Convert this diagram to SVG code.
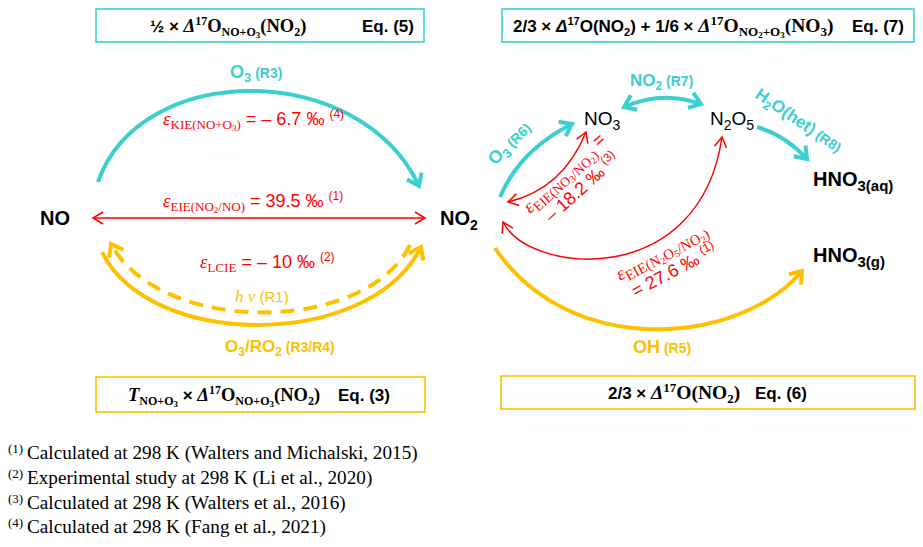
<svg xmlns="http://www.w3.org/2000/svg" width="923" height="547" viewBox="0 0 923 547">
<style>
.sans{font-family:"Liberation Sans",Arial,sans-serif}
.serif{font-family:"Liberation Serif","Times New Roman",serif}
.b{font-weight:bold}
.i{font-style:italic}
.cy{fill:#3CCFCF}
.or{fill:#FFC000}
.rd{fill:#FF0000}
.bk{fill:#000}
.boxc{fill:#fff;stroke:#3CCFCF;stroke-width:1.6}
.boxo{fill:#fff;stroke:#FFC000;stroke-width:1.6}
.lc{fill:none;stroke:#3CCFCF;stroke-width:4}
.lo{fill:none;stroke:#FFC000;stroke-width:4}
.lr{fill:none;stroke:#FF0000;stroke-width:1.5}
.dash{stroke-dasharray:14 9}
</style>
<defs>
<marker id="mc" markerUnits="userSpaceOnUse" viewBox="-16 -12 20 24" markerWidth="20" markerHeight="24" refX="0" refY="0" orient="auto-start-reverse" overflow="visible">
<path d="M-11,-8 L0,0 L-11,8" fill="none" stroke="#3CCFCF" stroke-width="4"/>
</marker>
<marker id="mo" markerUnits="userSpaceOnUse" viewBox="-16 -12 20 24" markerWidth="20" markerHeight="24" refX="0" refY="0" orient="auto-start-reverse" overflow="visible">
<path d="M-11,-8 L0,0 L-11,8" fill="none" stroke="#FFC000" stroke-width="4"/>
</marker>
<marker id="mr" markerUnits="userSpaceOnUse" viewBox="-12 -8 14 16" markerWidth="14" markerHeight="16" refX="0" refY="0" orient="auto-start-reverse" overflow="visible">
<path d="M-10,-6 L0,0 L-10,6" fill="none" stroke="#FF0000" stroke-width="1.5"/>
</marker>
</defs>
<rect width="923" height="547" fill="#fff"/>

<!-- equation boxes -->
<g id="eq5">
<rect class="boxc" x="96" y="9" width="328" height="33"/>
<text class="serif b" x="150" y="32" font-size="18.5"><tspan class="sans" font-size="17">½ × </tspan><tspan class="i">Δ</tspan><tspan font-size="12" dy="-7">17</tspan><tspan dy="7">O</tspan><tspan font-size="12" dy="4">NO+O</tspan><tspan font-size="9" dy="2">3</tspan><tspan dy="-6">(NO</tspan><tspan font-size="12" dy="4">2</tspan><tspan dy="-4">)</tspan></text>
<text class="sans b" x="362" y="32" font-size="17">Eq. (5)</text>
</g>
<g id="eq7">
<rect class="boxc" x="502" y="9" width="412" height="33"/>
<text class="sans b" x="513" y="32" font-size="17">2/3 × <tspan class="i">Δ</tspan><tspan font-size="11" dy="-7">17</tspan><tspan dy="7">O(NO</tspan><tspan font-size="11" dy="4">2</tspan><tspan dy="-4">) + 1/6 × </tspan><tspan class="serif i" font-size="19.5">Δ</tspan><tspan class="serif" font-size="13" dy="-7">17</tspan><tspan class="serif" font-size="19.5" dy="7">O</tspan><tspan class="serif" font-size="13" dy="4">NO</tspan><tspan class="serif" font-size="9" dy="2">2</tspan><tspan class="serif" font-size="13" dy="-2">+O</tspan><tspan class="serif" font-size="9" dy="2">3</tspan><tspan class="serif" font-size="19.5" dy="-6">(NO</tspan><tspan class="serif" font-size="13" dy="4">3</tspan><tspan class="serif" font-size="19.5" dy="-4">)</tspan></text>
<text class="sans b" x="852" y="32" font-size="17">Eq. (7)</text>
</g>
<g id="eq3">
<rect class="boxo" x="96" y="377" width="329" height="35"/>
<text class="serif b" x="128" y="401" font-size="18.5"><tspan class="i">T</tspan><tspan font-size="12" dy="4">NO+O</tspan><tspan font-size="9" dy="2">3</tspan><tspan class="sans" font-size="17" dy="-6"> × </tspan><tspan class="i">Δ</tspan><tspan font-size="12" dy="-7">17</tspan><tspan dy="7">O</tspan><tspan font-size="12" dy="4">NO+O</tspan><tspan font-size="9" dy="2">3</tspan><tspan dy="-6">(NO</tspan><tspan font-size="12" dy="4">2</tspan><tspan dy="-4">)</tspan></text>
<text class="sans b" x="338" y="401" font-size="17">Eq. (3)</text>
</g>
<g id="eq6">
<rect class="boxo" x="501" y="376" width="414" height="33"/>
<text class="serif b" x="608" y="399" font-size="19.5"><tspan class="sans" font-size="17">2/3 × </tspan><tspan class="i">Δ</tspan><tspan font-size="13" dy="-7">17</tspan><tspan dy="7">O(NO</tspan><tspan font-size="13" dy="4">2</tspan><tspan dy="-4">)</tspan></text>
<text class="sans b" x="755" y="399" font-size="17">Eq. (6)</text>
</g>

<!-- species nodes -->
<g id="NO"><text class="sans b bk" x="40" y="225" font-size="20">NO</text></g>
<g id="NO2"><text class="sans b bk" x="440" y="225" font-size="20">NO<tspan font-size="14" dy="5">2</tspan></text></g>
<g id="NO3"><text class="sans bk" x="584" y="125" font-size="19">NO<tspan font-size="14" dy="5">3</tspan></text></g>
<g id="N2O5"><text class="sans bk" x="710" y="125" font-size="19">N<tspan font-size="14" dy="5">2</tspan><tspan dy="-5">O</tspan><tspan font-size="14" dy="5">5</tspan></text></g>
<g id="HNO3aq"><text class="sans b bk" x="813" y="186" font-size="20">HNO<tspan font-size="15" dy="5">3(aq)</tspan></text></g>
<g id="HNO3g"><text class="sans b bk" x="813" y="262" font-size="20">HNO<tspan font-size="15" dy="5">3(g)</tspan></text></g>

<!-- connectors -->
<g id="connectors">
<path class="lc" d="M98,182 C140,60 360,60 419,186" marker-end="url(#mc)"/>
<path class="lr" d="M93,218 L425,218" marker-start="url(#mr)" marker-end="url(#mr)"/>
<path class="lo" d="M102,252 C150,350 370,350 421,247" marker-end="url(#mo)"/>
<path class="lo dash" d="M410,245 C365,335 160,335 111,244" marker-end="url(#mo)"/>
<path class="lc" d="M500,197 Q520,150 572,124" marker-end="url(#mc)"/>
<path class="lr" d="M508,202 Q563,189 586,132" marker-start="url(#mr)" marker-end="url(#mr)"/>
<path class="lr" d="M503,222 C530,275 700,290 722,137" marker-start="url(#mr)" marker-end="url(#mr)"/>
<path class="lc" d="M624,107 Q662,90 701,104" marker-start="url(#mc)" marker-end="url(#mc)"/>
<path class="lc" d="M757,127 Q785,135 807,159" marker-end="url(#mc)"/>
<path class="lo" d="M495,248 C570,360 740,345 802,271" marker-end="url(#mo)"/>
</g>

<!-- connector labels -->
<g id="labels">
<text class="sans b cy" x="230" y="78" font-size="18">O<tspan font-size="13" dy="4">3</tspan><tspan font-size="14" dy="-4"> (R3)</tspan></text>
<text class="rd" x="163" y="125"><tspan class="serif i" font-size="19">ε</tspan><tspan class="serif" font-size="13" dy="4">KIE(NO+O</tspan><tspan class="serif" font-size="9" dy="2">3</tspan><tspan class="serif" font-size="13" dy="-2">)</tspan><tspan class="sans" font-size="18" dy="-4"> = – 6.7 ‰ </tspan><tspan class="sans" font-size="12" dy="-7">(4)</tspan></text>
<text class="rd" x="163" y="207"><tspan class="serif i" font-size="19">ε</tspan><tspan class="serif" font-size="13" dy="4">EIE(NO</tspan><tspan class="serif" font-size="9" dy="2">2</tspan><tspan class="serif" font-size="13" dy="-2">/NO)</tspan><tspan class="sans" font-size="18" dy="-4"> = 39.5 ‰ </tspan><tspan class="sans" font-size="12" dy="-7">(1)</tspan></text>
<text class="rd" x="200" y="268"><tspan class="serif i" font-size="19">ε</tspan><tspan class="serif" font-size="13" dy="4">LCIE</tspan><tspan class="sans" font-size="18" dy="-4"> = – 10 ‰ </tspan><tspan class="sans" font-size="12" dy="-7">(2)</tspan></text>
<text class="or" x="235" y="302"><tspan class="serif i" font-size="17">h ν</tspan><tspan class="sans" font-size="15">  (R1)</tspan></text>
<text class="sans b or" x="225" y="352" font-size="17">O<tspan font-size="12" dy="4">3</tspan><tspan dy="-4">/RO</tspan><tspan font-size="12" dy="4">2</tspan><tspan font-size="14" dy="-4"> (R3/R4)</tspan></text>
<text class="sans b cy" x="630" y="86" font-size="17">NO<tspan font-size="12" dy="4">2</tspan><tspan font-size="14" dy="-4"> (R7)</tspan></text>
<text class="sans b cy" transform="translate(495,166) rotate(-45)" font-size="18">O<tspan font-size="13" dy="4">3</tspan><tspan font-size="14" dy="-4"> (R6)</tspan></text>
<text class="sans b cy" transform="translate(754,97) rotate(34)" font-size="17">H<tspan font-size="12" dy="4">2</tspan><tspan dy="-4">O(het)</tspan><tspan font-size="14"> (R8)</tspan></text>
<g transform="translate(530,214) rotate(-42)">
<text class="rd" x="0" y="0"><tspan class="serif i" font-size="19">ε</tspan><tspan class="serif" font-size="13.5" dy="4">EIE(NO</tspan><tspan class="serif" font-size="10" dy="2">3</tspan><tspan class="serif" font-size="13.5" dy="-2">/NO</tspan><tspan class="serif" font-size="10" dy="2">2</tspan><tspan class="serif" font-size="13.5" dy="-2">)</tspan><tspan class="sans" font-size="18" dy="-7"> =</tspan></text>
<text class="rd sans" x="10" y="21" font-size="18">– 18.2 ‰ <tspan font-size="12" dy="-7">(3)</tspan></text>
</g>
<g transform="translate(620,281) rotate(-28)">
<text class="rd" x="0" y="0"><tspan class="serif i" font-size="19">ε</tspan><tspan class="serif" font-size="14.5" dy="4">EIE(N</tspan><tspan class="serif" font-size="10" dy="2">2</tspan><tspan class="serif" font-size="14.5" dy="-2">O</tspan><tspan class="serif" font-size="10" dy="2">5</tspan><tspan class="serif" font-size="14.5" dy="-2">/NO</tspan><tspan class="serif" font-size="10" dy="2">2</tspan><tspan class="serif" font-size="14.5" dy="-2">)</tspan></text>
<text class="rd sans" x="6" y="22" font-size="18">= 27.6 ‰ <tspan font-size="12" dy="-7">(1)</tspan></text>
</g>
<text class="sans b or" x="633" y="353" font-size="18">OH<tspan font-size="14"> (R5)</tspan></text>
</g>

<!-- footnotes -->
<g id="footnotes" font-family="'Liberation Serif','Times New Roman',serif" font-size="19.2">
<text x="8" y="459"><tspan font-size="13" dy="-6">(1)</tspan><tspan x="27" dy="6">Calculated at 298 K (Walters and Michalski, 2015)</tspan></text>
<text x="8" y="484"><tspan font-size="13" dy="-6">(2)</tspan><tspan x="27" dy="6">Experimental study at 298 K (Li et al., 2020)</tspan></text>
<text x="8" y="509"><tspan font-size="13" dy="-6">(3)</tspan><tspan x="27" dy="6">Calculated at 298 K (Walters et al., 2016)</tspan></text>
<text x="8" y="533"><tspan font-size="13" dy="-6">(4)</tspan><tspan x="27" dy="6">Calculated at 298 K (Fang et al., 2021)</tspan></text>
</g>
</svg>
